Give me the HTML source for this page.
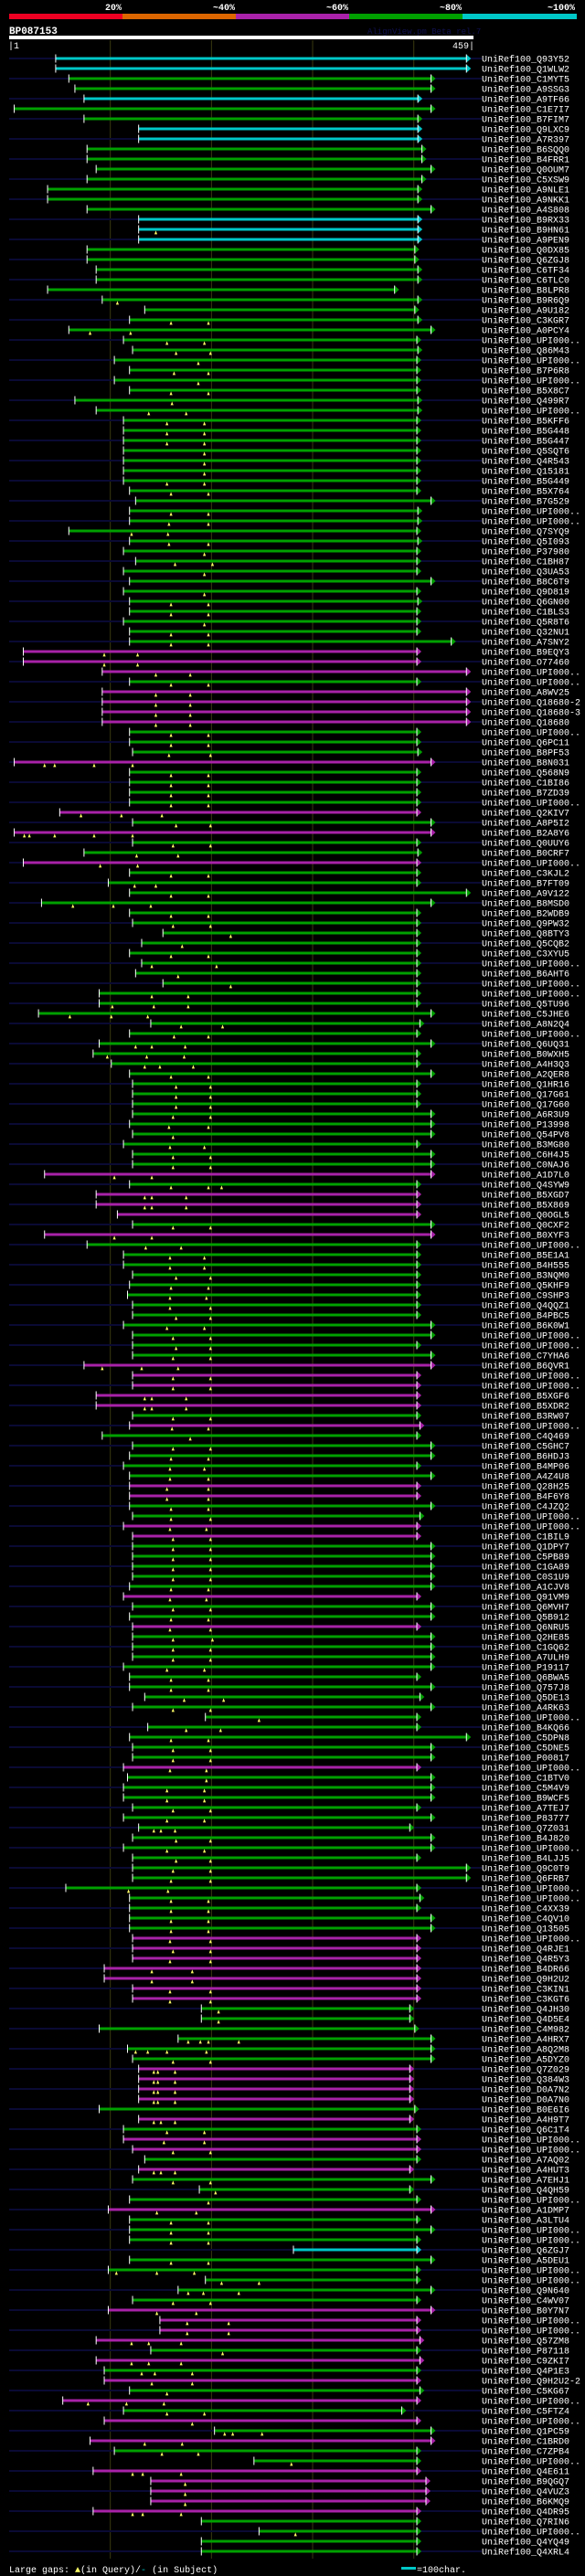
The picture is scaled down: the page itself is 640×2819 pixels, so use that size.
<!DOCTYPE html>
<html><head><meta charset="utf-8"><style>
html,body{margin:0;padding:0;background:#000;}
svg{display:block;font-family:"Liberation Mono","DejaVu Sans Mono",monospace;}
</style></head><body>
<svg id="chart" width="640" height="2819" viewBox="0 0 640 2819" xmlns="http://www.w3.org/2000/svg">
<rect x="0" y="0" width="640" height="2819" fill="#000"/>
<g>
<text x="133" y="11" fill="#fff" font-size="10" font-weight="bold" text-anchor="end">20%</text>
<text x="257" y="11" fill="#fff" font-size="10" font-weight="bold" text-anchor="end">~40%</text>
<text x="381" y="11" fill="#fff" font-size="10" font-weight="bold" text-anchor="end">~60%</text>
<text x="505" y="11" fill="#fff" font-size="10" font-weight="bold" text-anchor="end">~80%</text>
<text x="629" y="11" fill="#fff" font-size="10" font-weight="bold" text-anchor="end">~100%</text>
<rect x="10" y="15" width="124" height="6" fill="#ee0022"/>
<rect x="134" y="15" width="124" height="6" fill="#dd6600"/>
<rect x="258" y="15" width="124" height="6" fill="#aa22aa"/>
<rect x="382" y="15" width="124" height="6" fill="#00a000"/>
<rect x="506" y="15" width="125" height="6" fill="#00c8c8"/>
</g>
<text x="10" y="37" fill="#fff" font-size="11" font-weight="bold">BP087153</text>
<text x="402" y="37" fill="#101050" font-size="9">AlignView.pm Beta rel.7</text>
<rect x="10" y="39" width="508" height="4" fill="#fff"/>
<text x="9" y="53" fill="#fff" font-size="10">|1</text>
<text x="519" y="53" fill="#fff" font-size="10" text-anchor="end">459|</text>
<g id="grid"></g>
<g id="rows"></g>
<g>
<text x="10" y="2815" fill="#fff" font-size="10">Large gaps: <tspan fill="#ffff66">▲</tspan>(in Query)/<tspan fill="#00c8c8">-</tspan> (in Subject)</text>
<rect x="439" y="2809" width="16" height="3" fill="#00c8c8"/>
<text x="456" y="2815" fill="#fff" font-size="10">=100char.</text>
</g>
</svg>
<script>
const names=["Q93Y52","Q1WLW2","C1MYT5","A9SSG3","A9TF66","C1E7I7","B7FIM7","Q9LXC9","A7R397","B6SQQ0",
"B4FRR1","Q0OUM7","C5XSW9","A9NLE1","A9NKK1","A4S808","B9RX33","B9HN61","A9PEN9","Q0DX85",
"Q6ZGJ8","C6TF34","C6TLC0","B8LPR8","B9R6Q9","A9U182","C3KGR7","A0PCY4","UPI000..","Q86M43",
"UPI000..","B7P6R8","UPI000..","B5X8C7","Q499R7","UPI000..","B5KFF6","B5G448","B5G447","Q5SQT6",
"Q4R543","Q15181","B5G449","B5X764","B7G529","UPI000..","UPI000..","Q7SYQ9","Q5I093","P37980",
"C1BH87","Q3UA53","B8C6T9","Q9D819","Q6GN00","C1BLS3","Q5R8T6","Q32NU1","A7SNY2","B9EQY3",
"O77460","UPI000..","UPI000..","A8WV25","Q18680-2","Q18680-3","Q18680","UPI000..","Q6PC11","B8PF53",
"B8N031","Q568N9","C1BI86","B7ZD39","UPI000..","Q2KIV7","A8P5I2","B2A8Y6","Q0UUY6","B0CRF7",
"UPI000..","C3KJL2","B7FT09","A9V122","B8MSD0","B2WDB9","Q9PW32","Q8BTY3","Q5CQB2","C3XYU5",
"UPI000..","B6AHT6","UPI000..","UPI000..","Q5TU96","C5JHE6","A8N2Q4","UPI000..","Q6UQ31","B0WXH5",
"A4H3Q3","A2QER8","Q1HR16","Q17G61","Q17G60","A6R3U9","P13998","Q54PV8","B3MG80","C6H4J5",
"C0NAJ6","A1D7L0","Q4SYW9","B5XGD7","B5X869","Q0OGL5","Q0CXF2","B0XYF3","UPI000..","B5E1A1",
"B4H555","B3NQM0","Q5KHF9","C9SHP3","Q4QQZ1","B4PBC5","B6K0W1","UPI000..","UPI000..","C7YHA6",
"B6QVR1","UPI000..","UPI000..","B5XGF6","B5XDR2","B3RW07","UPI000..","C4Q469","C5GHC7","B6HDJ3",
"B4MP06","A4Z4U8","Q28H25","B4F6Y8","C4JZQ2","UPI000..","UPI000..","C1BIL9","Q1DPY7","C5PB89",
"C1GA89","C0S1U9","A1CJV8","Q91VM9","Q6MVH7","Q5B912","Q6NRU5","Q2HE85","C1GQ62","A7ULH9",
"P19117","Q6BWA5","Q757J8","Q5DE13","A4RK63","UPI000..","B4KQ66","C5DPN8","C5DNE5","P00817",
"UPI000..","C1BTV0","C5M4V9","B9WCF5","A7TEJ7","P83777","Q7Z031","B4J820","UPI000..","B4LJJ5",
"Q9C0T9","Q6FRB7","UPI000..","UPI000..","C4XX39","C4QV10","Q13505","UPI000..","Q4RJE1","Q4R5Y3",
"B4DR66","Q9H2U2","C3KIN1","C3KGT6","Q4JH30","Q4D5E4","C4M982","A4HRX7","A8Q2M8","A5DYZ0",
"Q7Z029","Q384W3","D0A7N2","D0A7N0","B0E6I6","A4H9T7","Q6C1T4","UPI000..","UPI000..","A7AQ02",
"A4HUT3","A7EHJ1","Q4QH59","UPI000..","A1DMP7","A3LTU4","UPI000..","UPI000..","Q6ZGJ7","A5DEU1",
"UPI000..","UPI000..","Q9N640","C4WV07","B0Y7N7","UPI000..","UPI000..","Q57ZM8","P87118","C9ZKI7",
"Q4P1E3","Q9H2U2-2","C5KG67","UPI000..","C5FTZ4","UPI000..","Q1PC59","C1BRD0","C7ZPB4","UPI000..",
"Q4E611","B9QGQ7","Q4VUZ3","B6KMQ9","Q4DR95","Q7RIN6","UPI000..","Q4YQ49","Q4XRL4"];
const starts=[46,46,59,65,74,5,74,128,128,77,
77,86,77,38,38,77,128,128,128,77,
77,86,86,38,92,134,119,59,113,122,
104,119,104,119,65,86,113,113,113,113,
113,113,113,119,125,119,119,59,119,113,
125,113,119,113,119,119,113,119,119,14,
14,92,119,92,92,92,92,119,119,122,
5,119,119,119,119,50,122,5,122,74,
14,119,98,119,32,119,122,152,131,119,
131,125,152,89,89,29,140,119,89,83,
101,119,122,122,122,122,119,122,113,122,
122,35,119,86,86,107,122,35,77,113,
113,122,119,117,122,122,113,122,122,122,
74,122,122,86,86,122,119,92,122,119,
113,119,119,119,119,122,113,122,122,122,
122,122,119,113,122,119,122,122,122,122,
113,119,119,134,122,194,137,119,122,122,
113,117,113,113,122,113,128,122,113,122,
122,122,56,119,119,119,119,122,122,122,
94,94,122,122,190,190,89,167,117,122,
128,128,128,128,89,128,113,113,122,134,
128,122,188,119,98,119,119,119,281,119,
98,194,167,122,98,149,149,86,140,86,
94,94,119,53,113,94,203,80,104,242,
83,140,140,140,83,190,247,190,190];
const ends=[452,452,417,417,404,417,404,404,404,408,
408,417,408,404,404,417,404,404,404,401,
401,404,404,381,404,401,404,417,403,404,
403,403,403,403,404,404,403,403,403,403,
403,403,403,403,417,404,404,403,404,403,
403,403,417,403,404,403,403,403,437,403,
403,452,403,452,452,452,452,403,403,404,
417,403,403,403,403,403,417,417,403,404,
403,403,403,452,417,403,403,403,403,403,
403,403,403,403,403,417,406,403,417,403,
403,417,403,403,403,417,417,417,403,417,
417,417,403,403,403,403,417,417,403,403,
403,403,403,403,403,403,417,417,403,417,
417,403,403,403,403,403,406,403,417,417,
403,417,403,403,417,406,403,403,417,417,
417,417,417,403,417,417,403,417,417,417,
417,403,417,406,417,403,403,452,417,417,
403,417,417,417,403,417,396,417,417,403,
452,452,403,406,403,417,417,403,403,403,
403,403,403,403,396,396,401,417,417,417,
396,396,396,396,401,396,403,403,403,403,
396,417,396,403,417,403,417,403,403,417,
403,403,417,403,417,403,403,406,403,406,
403,403,406,403,388,403,417,417,403,403,
403,412,412,412,403,403,403,403,403];
const colorCodes="ccggcggccg"+"ggggggcccg"+"gggggggggg"+"gggggggggg"+"gggggggggg"+"gggggggggp"+
"ppgppppggg"+"pggggpgpgg"+"pggggggggg"+"gggggggggg"+"gggggggggg"+"gpgpppgpgg"+"gggggggggg"+
"pppppgpggg"+"ggppggppgg"+"gggpggpggg"+"gggggggggg"+"pggggggggg"+"gggggggppp"+"ppppgggggg"+
"ppppgpgppg"+"pgggpgggcg"+"ggggppppgp"+"gpgpgpgpgg"+"pppppgggg";
const gaps=[[],[],[],[],[],[],[],[],[],[],
[],[],[],[],[],[],[],[145],[],[],
[],[],[],[],[107],[],[160,197],[80,120],[156,193],[165,199],
[187],[163,197],[187],[160,197],[161],[138,175],[156,193],[156,193],[156,193],[193],
[193],[193],[156,193],[160,197],[],[160,197],[158,197],[121,157],[158,197],[193],
[164,201],[193],[],[193],[160,197],[160,197],[193],[160,197],[160,197],[94,127],
[94,127],[145,179],[160,197],[145,179],[145,179],[145,179],[145,179],[160,197],[160,197],[158,199],
[35,45,84,122],[160,197],[160,197],[160,197],[160,197],[71,111,151],[165,199],[15,20,45,84,122],[162,199],[126,167],
[90,127],[160,197],[124,145],[160,197],[63,103,140],[160,197],[162,199],[219],[171],[160,197],
[141,205],[167],[219],[141,177],[102,143,177],[60,101,137],[170,211],[163,197],[125,141,174],[97,136,173],
[134,149,182],[160,197],[165,199],[165,199],[165,199],[162,199],[158,197],[162],[159,193],[162,199],
[162,199],[104,141],[160,197,210],[134,141,175],[134,141,175],[],[162,199],[104,141],[135,170],[159,193],
[159,193],[165,199],[160,197],[159,195],[159,199],[165,199],[156,193],[162,199],[165,199],[162,199],
[92,131,167],[162,199],[162,199],[134,141,175],[134,141,175],[162,199],[161,197],[179],[162,199],[160,197],
[159,193],[159,197],[156,197],[156,197],[160,197],[160,199],[159,195],[162,199],[162,199],[162,199],
[162,199],[162,199],[160,197],[159,195],[162,199],[160,197],[159,199],[162,201],[162,199],[162,199],
[156,193],[160,197],[160,197],[173,212],[162,199],[247],[175,209],[160,197],[162,199],[162,199],
[159,195],[195],[156,193],[156,193],[162,199],[156,193],[143,150,164],[165,199],[156,193],[165,199],
[162,199],[160,199],[118,157],[160,197],[160,197],[160,197],[160,197],[159,199],[162,199],[159,199],
[141,181],[141,181],[159,199],[159,199],[207],[207],[],[177,189,197,227],[125,137,156,195],[162,199],
[143,147,164],[143,147,164],[143,147,164],[143,147,164],[],[143,150,164],[156,193],[153,193],[162,199],[],
[143,150,164],[162,199],[204],[197],[146,185],[160,197],[160,197],[160,197],[],[160,197],
[106,146,183],[210,247],[177,192,227],[162,199],[146,185],[176,217],[176,217],[121,138,170],[211],[121,138,170],
[131,144,181],[141,181],[156],[78,116,153],[156,193],[181],[213,221,250],[134,171],[151,187],[279],
[122,132,170],[174],[174],[174],[122,132,170],[],[283],[],[]];
const gridTicks=[100,200,300,400];

const NS="http://www.w3.org/2000/svg";
const QLEN=459, X0=10, X1=518;
function xq(q){return X0+q*(X1-X0)/QLEN;}
function yRow(i){return 64+i*11;}
const palette={c:"#00c8c8",g:"#00a000",p:"#a822a8"};
function mk(tag,attrs,parent){const e=document.createElementNS(NS,tag);for(const k in attrs)e.setAttribute(k,attrs[k]);parent.appendChild(e);return e;}

const grid=document.getElementById('grid');
gridTicks.forEach(t=>{
  const l=mk('line',{x1:xq(t),x2:xq(t),y1:44,y2:2800,stroke:"#3a3a10","stroke-width":1},grid);
  
  
});

const rowsG=document.getElementById('rows');
names.forEach((n,i)=>{
  const y=yRow(i);
  const g=mk('g',{},rowsG);
  
  
  if(i%2===0){
    const bg=mk('rect',{x:10,y:y-1,width:517,height:2,fill:"#0a0a34"},g);
    
    
  }
  const col=palette[colorCodes[i]]||palette.g;
  const xs=xq(starts[i]), xe=xq(ends[i]);
  const bar=mk('rect',{x:xs,y:y-1.5,width:Math.max(0,xe-xs),height:3,fill:col},g);
  
  
  const st=mk('rect',{x:xs-0.5,y:y-4.5,width:1,height:9,fill:"#fff"},g);
  
  
  const ar=mk('polygon',{points:`${xe},${y-4.5} ${xe+5},${y} ${xe},${y+4.5}`,fill:col},g);
  
  
  const ae=mk('rect',{x:xe-0.5,y:y-4.5,width:1,height:9,fill:"#fff"},g);
  
  
  gaps[i].forEach(q=>{
    const gx=xq(q);
    const m=mk('polygon',{points:`${gx-1},${y+5} ${gx},${y+2.5} ${gx+1},${y+5}`,fill:"#ffff66",stroke:"#ffff66","stroke-width":0.8},g);
    
    
  });
  const t=mk('text',{x:527,y:y+3.5,fill:"#fff","font-size":10},g);
  t.textContent="UniRef100_"+n;
  
  
});
</script>
</body></html>
